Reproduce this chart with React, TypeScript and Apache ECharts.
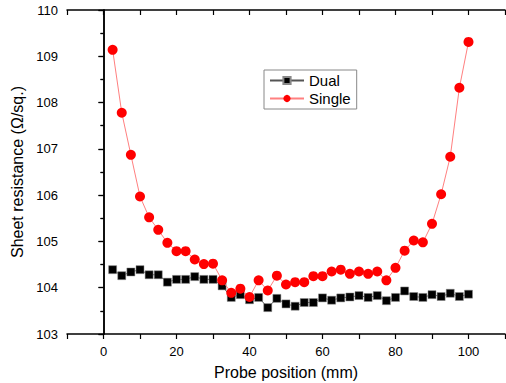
import React, { useEffect, useRef } from "react";
import * as echarts from "echarts";

const positions: number[] = [
  2.5, 5, 7.5, 10, 12.5, 15, 17.5, 20, 22.5, 25, 27.5, 30, 32.5, 35, 37.5, 40, 42.5, 45, 47.5, 50,
  52.5, 55, 57.5, 60, 62.5, 65, 67.5, 70, 72.5, 75, 77.5, 80, 82.5, 85, 87.5, 90, 92.5, 95, 97.5, 100,
];

const dualValues: number[] = [
  104.39, 104.26, 104.34, 104.39, 104.28, 104.28, 104.12, 104.18, 104.18, 104.24,
  104.18, 104.18, 104.04, 103.79, 103.85, 103.74, 103.79, 103.57, 103.77, 103.65,
  103.6, 103.68, 103.68, 103.78, 103.73, 103.78, 103.8, 103.83, 103.79, 103.83,
  103.72, 103.79, 103.93, 103.81, 103.79, 103.85, 103.81, 103.88, 103.81, 103.86,
];

const singleValues: number[] = [
  109.14, 107.78, 106.87, 105.97, 105.52, 105.25, 104.97, 104.79, 104.79, 104.61,
  104.51, 104.52, 104.16, 103.89, 103.98, 103.8, 104.16, 103.94, 104.26, 104.07,
  104.12, 104.12, 104.25, 104.25, 104.35, 104.39, 104.3, 104.35, 104.3, 104.35,
  104.16, 104.43, 104.8, 105.02, 104.98, 105.38, 106.02, 106.83, 108.32, 109.31,
];

const seriesNames: string[] = ["Dual", "Single"];
const xTitle = "Probe position (mm)";
const yTitle = "Sheet resistance (\u03A9/sq.)";

const FONT = "Liberation Sans, Arial, sans-serif";

export default function App() {
  const ref = useRef<HTMLDivElement>(null);
  useEffect(() => {
    if (!ref.current) return;
    const chart = echarts.init(ref.current, undefined, { renderer: "svg" });
    const axisLine = { show: true, lineStyle: { color: "#000", width: 1.5 } };
    const tickStyle = { color: "#000", width: 1.2 };
    const toPairs = (vals: number[]) => positions.map((p, i) => [p, vals[i]]);
    chart.setOption({
      animation: false,
      backgroundColor: "#fff",
      textStyle: { fontFamily: FONT },
      grid: { left: 67, right: 1, top: 10, bottom: 49, outerBoundsMode: "none", containLabel: false },
      legend: {
        show: true,
        orient: "vertical",
        left: 264,
        top: 70,
        data: seriesNames,
        borderColor: "#888",
        borderWidth: 1,
        padding: [3, 6, 3, 5],
        itemGap: 3,
        itemWidth: 34,
        itemHeight: 9,
        textStyle: { fontSize: 15, color: "#000", fontFamily: FONT },
      },
      xAxis: [
        {
          type: "value",
          min: -10,
          max: 110,
          interval: 10,
          position: "bottom",
          name: xTitle,
          nameLocation: "middle",
          nameGap: 30,
          nameTextStyle: { fontSize: 16, color: "#000", fontFamily: FONT },
          axisLine,
          axisTick: { show: true, inside: false, length: 5, lineStyle: tickStyle },
          axisLabel: {
            show: true,
            margin: 11,
            fontSize: 13,
            color: "#000",
            fontFamily: FONT,
            formatter: (v: number) => (Math.round(v) % 20 === 0 ? String(v) : ""),
          },
          splitLine: { show: false },
        },
        {
          type: "value",
          min: -10,
          max: 110,
          interval: 10,
          position: "top",
          axisLine,
          axisTick: { show: true, inside: true, length: 5, lineStyle: tickStyle },
          axisLabel: { show: false },
          splitLine: { show: false },
        },
      ],
      yAxis: [
        {
          type: "value",
          min: 103,
          max: 110,
          interval: 1,
          position: "left",
          name: yTitle,
          nameLocation: "middle",
          nameGap: 37,
          nameRotate: 90,
          nameTextStyle: { fontSize: 16, color: "#000", fontFamily: FONT },
          axisLine,
          axisTick: { show: true, inside: false, length: 5, lineStyle: tickStyle },
          minorTick: { show: true, splitNumber: 2, length: 3, lineStyle: tickStyle },
          axisLabel: { show: true, margin: 9, fontSize: 13, color: "#000", fontFamily: FONT },
          splitLine: { show: false },
        },
        {
          type: "value",
          min: 103,
          max: 110,
          interval: 1,
          position: "right",
          axisLine,
          axisTick: { show: true, inside: true, length: 5, lineStyle: tickStyle },
          minorTick: { show: true, splitNumber: 2, length: 3, lineStyle: tickStyle },
          axisLabel: { show: false },
          splitLine: { show: false },
        },
      ],
      series: [
        {
          name: seriesNames[0],
          type: "line",
          xAxisIndex: 0,
          yAxisIndex: 0,
          data: toPairs(dualValues),
          symbol: "rect",
          symbolSize: 8,
          itemStyle: { color: "#000", borderColor: "#888", borderWidth: 0.5 },
          lineStyle: { color: "#555", width: 1 },
          z: 2,
        },
        {
          name: seriesNames[1],
          type: "line",
          xAxisIndex: 0,
          yAxisIndex: 0,
          data: toPairs(singleValues),
          symbol: "circle",
          symbolSize: 10,
          itemStyle: { color: "#ff0000" },
          lineStyle: { color: "#ff8080", width: 1 },
          z: 3,
        },
      ],
    });
    return () => chart.dispose();
  }, []);
  return <div ref={ref} style={{ width: 506, height: 383, position: "absolute", left: 0, top: 0 }} />;
}
